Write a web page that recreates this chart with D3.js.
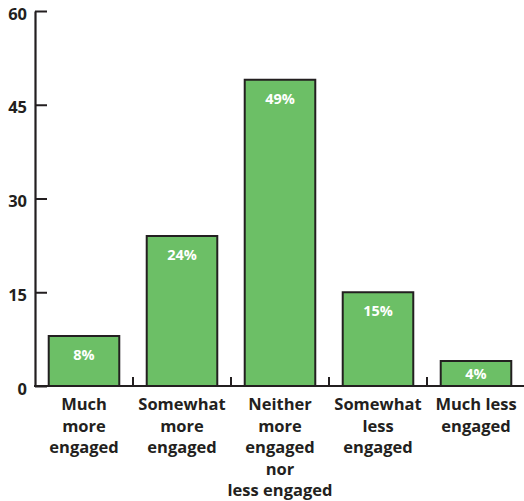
<!DOCTYPE html>
<html>
<head>
<meta charset="utf-8">
<script src="https://cdn.jsdelivr.net/npm/d3@7/dist/d3.min.js"></script>
<style>
  html, body { margin: 0; padding: 0; background: #fff; }
  svg { display: block; }
  text { font-family: "Open Sans", Lato, sans-serif; font-weight: 700; }
</style>
</head>
<body>
<div id="chart"></div>
<script>
// Response categories, each split into its display lines
const categories = [
  ["Much", "more", "engaged"],
  ["Somewhat", "more", "engaged"],
  ["Neither", "more", "engaged", "nor", "less engaged"],
  ["Somewhat", "less", "engaged"],
  ["Much less", "engaged"]
];
// Share of respondents (%)
const values = [8, 24, 49, 15, 4];
// Y axis ticks
const yTicks = [0, 15, 30, 45, 60];

const W = 524, H = 501;
const ink = "#231f20";
const green = "#6cbf66";

const svg = d3.select("#chart").append("svg")
  .attr("width", W).attr("height", H);

const keys = categories.map((c, i) => i);

const x = d3.scaleBand()
  .domain(keys)
  .range([35, 525])
  .paddingInner(0.28)
  .paddingOuter(0.14);

const y = d3.scaleLinear()
  .domain([0, 60])
  .range([386, 11]);

// Bars
svg.append("g").selectAll("rect")
  .data(values)
  .join("rect")
  .attr("x", (d, i) => x(i))
  .attr("y", d => y(d))
  .attr("width", x.bandwidth())
  .attr("height", d => y(0) - y(d))
  .attr("fill", green)
  .attr("stroke", ink)
  .attr("stroke-width", 2);

// Value labels inside the bars (centred in short bars)
svg.append("g").selectAll("text")
  .data(values)
  .join("text")
  .attr("x", (d, i) => x(i) + x.bandwidth() / 2)
  .attr("y", d => Math.min(y(d) + 24, (y(d) + y(0)) / 2 + 5))
  .attr("text-anchor", "middle")
  .attr("fill", "#fff")
  .attr("font-size", 14.5)
  .text(d => d + "%");

// Y axis, ticks pointing into the plot
const yAxis = d3.axisLeft(y)
  .tickValues(yTicks)
  .tickSizeInner(-12)
  .tickSizeOuter(0)
  .tickPadding(8);

const gy = svg.append("g")
  .attr("transform", "translate(35,0)")
  .call(yAxis);
gy.select(".domain").attr("stroke", ink).attr("stroke-width", 2.2);
gy.selectAll(".tick line").attr("stroke", ink).attr("stroke-width", 2);
gy.selectAll(".tick text")
  .attr("x", -8)
  .attr("dy", "0.68em")
  .attr("transform", "translate(0,-3)")
  .attr("fill", ink)
  .attr("font-size", 16.5)
  .attr("font-family", "'Open Sans', sans-serif")
  .attr("font-weight", 700);

// X axis baseline with separators between categories
const gx = svg.append("g");
gx.append("line")
  .attr("x1", 34).attr("x2", W)
  .attr("y1", y(0)).attr("y2", y(0))
  .attr("stroke", ink).attr("stroke-width", 2.2);

const step = x.step();
gx.selectAll("line.sep")
  .data(keys.slice(1))
  .join("line")
  .attr("class", "sep")
  .attr("x1", i => x(i) - step * x.paddingInner() / 2)
  .attr("x2", i => x(i) - step * x.paddingInner() / 2)
  .attr("y1", y(0))
  .attr("y2", y(0) - 9)
  .attr("stroke", ink)
  .attr("stroke-width", 2);

// Category labels
const lab = gx.selectAll("text.cat")
  .data(categories)
  .join("text")
  .attr("class", "cat")
  .attr("text-anchor", "middle")
  .attr("fill", ink)
  .attr("font-size", 16.5)
  .attr("y", y(0) + 24);

lab.selectAll("tspan")
  .data((d, i) => d.map(line => ({ line, i })))
  .join("tspan")
  .attr("x", d => x(d.i) + x.bandwidth() / 2)
  .attr("dy", (d, j) => j === 0 ? 0 : 21.5)
  .text(d => d.line);
</script>
</body>
</html>
